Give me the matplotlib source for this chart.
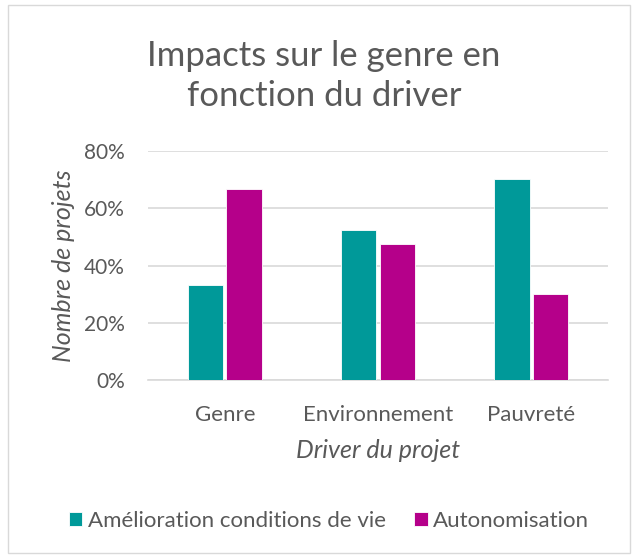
import matplotlib
matplotlib.use("Agg")
import matplotlib.pyplot as plt
import numpy as np
from matplotlib.patches import Rectangle

categories = ["Genre", "Environnement", "Pauvreté"]
series_names = ["Amélioration conditions de vie", "Autonomisation"]
amelioration = [0.333, 0.524, 0.700]
autonomisation = [0.667, 0.476, 0.300]
yticks = [0, 0.2, 0.4, 0.6, 0.8]
ytick_labels = ["0%", "20%", "40%", "60%", "80%"]

teal = "#009999"
magenta = "#B5008A"
txt = "#595959"
FONT = "Lato"
plt.rcParams['font.family'] = [FONT, 'DejaVu Sans']

fig = plt.figure(figsize=(6.34, 5.58), dpi=100)
fig.patches.append(Rectangle((8/634, 1-553/558), 622/634, 548/558, transform=fig.transFigure,
                             fill=False, edgecolor="#D9D9D9", linewidth=1))

ax = fig.add_axes([148.3/634, 1-380.3/558, 459.4/634, 229.6/558])
x = np.arange(len(categories))
w = 0.23
ax.bar(x - w/2 - 0.01, amelioration, w, color=teal, edgecolor="white", linewidth=0.6, label=series_names[0], zorder=3)
ax.bar(x + w/2 + 0.01, autonomisation, w, color=magenta, edgecolor="white", linewidth=0.6, label=series_names[1], zorder=3)
ax.set_xlim(-0.5, 2.5)
ax.set_ylim(0, 0.8)
ax.set_yticks(yticks)
ax.set_yticklabels(ytick_labels)
ax.set_xticks(x)
ax.set_xticklabels(categories)
ax.grid(axis="y", color="#D9D9D9", linewidth=1.2, zorder=0)
for s in ["top", "right", "left"]:
    ax.spines[s].set_visible(False)
ax.spines["bottom"].set_color("#D9D9D9")
ax.spines["bottom"].set_linewidth(1.2)
ax.tick_params(axis="both", length=0, colors=txt, labelsize=15)
ax.tick_params(axis="x", labelsize=16, pad=18)
ax.tick_params(axis="y", pad=17)
ax.set_ylabel("Nombre de projets", fontsize=18, style="italic", color=txt, labelpad=6)
ax.set_xlabel("Driver du projet", fontsize=18, style="italic", color=txt, labelpad=10)

fig.text(324/634, 1-76/558, "Impacts sur le genre en\nfonction du driver", ha="center", va="center",
         fontsize=25, color=txt, linespacing=1.3)

fig.legend(loc="center", bbox_to_anchor=(329/634, 1-521/558), ncol=2, frameon=False,
           fontsize=16, labelcolor=txt, handlelength=0.6, handleheight=0.6,
           handletextpad=0.25, columnspacing=1.3)

fig.savefig("out.png", dpi=100)
